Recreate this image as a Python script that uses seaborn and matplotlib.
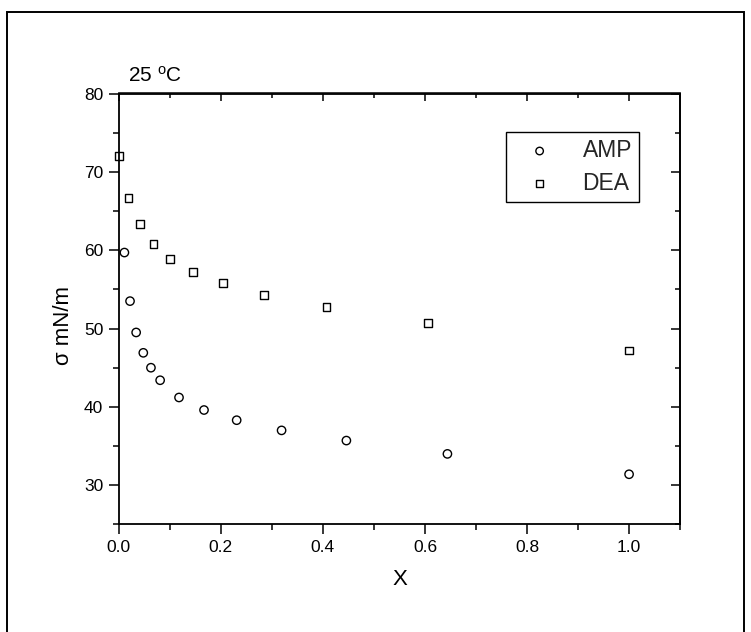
import numpy as np
import pandas as pd
import matplotlib
matplotlib.use("Agg")
import matplotlib.pyplot as plt
import seaborn as sns
from matplotlib.ticker import MultipleLocator
from matplotlib.patches import Rectangle

# ---- data ----
amp_x = [0.011, 0.022, 0.034, 0.048, 0.063, 0.081, 0.118, 0.167, 0.231, 0.319, 0.446, 0.644, 1.0]
amp_sigma = [59.7, 53.5, 49.5, 46.9, 45.0, 43.4, 41.2, 39.6, 38.3, 37.0, 35.7, 34.0, 31.4]
dea_x = [0.0, 0.019, 0.041, 0.068, 0.101, 0.146, 0.204, 0.285, 0.407, 0.606, 1.0]
dea_sigma = [72.0, 66.7, 63.3, 60.8, 58.9, 57.2, 55.8, 54.3, 52.7, 50.7, 47.2]
series_labels = ["AMP", "DEA"]
x_ticks = [0.0, 0.2, 0.4, 0.6, 0.8, 1.0]
x_ticklabels = ["0.0", "0.2", "0.4", "0.6", "0.8", "1.0"]
y_ticks = [30, 40, 50, 60, 70, 80]
y_ticklabels = ["30", "40", "50", "60", "70", "80"]
x_label = "X"
y_label = "σ mN/m"
title_text = r"25 $^{\mathregular{o}}$C"

amp_df = pd.DataFrame({"X": amp_x, "sigma": amp_sigma})
dea_df = pd.DataFrame({"X": dea_x, "sigma": dea_sigma})

sns.set_theme(style="ticks")
plt.rcParams["font.family"] = ["Liberation Sans", "DejaVu Sans"]
plt.rcParams["mathtext.default"] = "regular"

W, H = 751, 632
fig = plt.figure(figsize=(W / 100, H / 100), dpi=100, facecolor="white")
ax_l, ax_r, ax_t, ax_b = 118.8, 680.1, 93.5, 524.4
ax = fig.add_axes([ax_l / W, 1 - ax_b / H, (ax_r - ax_l) / W, (ax_b - ax_t) / H])
ax.set_facecolor("white")

sns.scatterplot(data=amp_df, x="X", y="sigma", ax=ax, marker="o", s=36,
                color="black", facecolor="none", edgecolor="black",
                linewidth=1.0, label=series_labels[0], clip_on=False, zorder=3)
sns.scatterplot(data=dea_df, x="X", y="sigma", ax=ax, marker="s", s=32,
                color="black", facecolor="none", edgecolor="black",
                linewidth=1.0, label=series_labels[1], clip_on=False, zorder=3)

ax.set_xlim(0.0, 1.1)
ax.set_ylim(25, 80)
ax.set_xticks(x_ticks)
ax.set_xticklabels(x_ticklabels)
ax.set_yticks(y_ticks)
ax.set_yticklabels(y_ticklabels)
ax.xaxis.set_minor_locator(MultipleLocator(0.1))
ax.yaxis.set_minor_locator(MultipleLocator(5))
ax.tick_params(which="both", direction="out", color="black", width=1.1,
               labelsize=12.5, labelcolor="black", top=False, right=False)
ax.tick_params(which="major", length=7.2, pad=4)
ax.tick_params(which="minor", length=4.3)
for sp in ax.spines.values():
    sp.set_visible(True)
    sp.set_color("black")
    sp.set_linewidth(1.3)

# inward ticks on the top and right sides
top = ax.secondary_xaxis("top")
top.set_xticks(x_ticks)
top.xaxis.set_minor_locator(MultipleLocator(0.1))
top.tick_params(which="both", direction="in", color="black", width=1.1, labeltop=False)
top.tick_params(which="major", length=6)
top.tick_params(which="minor", length=3.5)
top.spines["top"].set_linewidth(1.3)
right = ax.secondary_yaxis("right")
right.set_yticks(y_ticks)
right.yaxis.set_minor_locator(MultipleLocator(5))
right.tick_params(which="both", direction="in", color="black", width=1.1, labelright=False)
right.tick_params(which="major", length=6.5)
right.tick_params(which="minor", length=3.3)
right.spines["right"].set_linewidth(1.3)

ax.set_xlabel(x_label, fontsize=16, color="black")
ax.set_ylabel(y_label, fontsize=16, color="black")
ax.xaxis.set_label_coords((400 - ax_l) / (ax_r - ax_l), -(569 - ax_b) / (ax_b - ax_t))
ax.yaxis.set_label_coords(-(ax_l - 74) / (ax_r - ax_l), 1 - (325.8 - ax_t) / (ax_b - ax_t))

leg = ax.legend(loc="upper right",
                bbox_to_anchor=((639.3 - ax_l) / (ax_r - ax_l), 1 - (131.7 - ax_t) / (ax_b - ax_t)),
                borderaxespad=0, fontsize=16.5, frameon=True, fancybox=False,
                edgecolor="black", framealpha=1, borderpad=0.32, handlelength=2.3,
                handletextpad=0.72, labelspacing=0.42, markerscale=0.9)
leg.get_frame().set_linewidth(1.0)

fig.text(128 / W, 1 - 82 / H, title_text, fontsize=15, ha="left", va="baseline", color="black")

fig.add_artist(Rectangle((7 / W, -0.05), (744 - 7) / W, (H - 12) / H + 0.05,
                         transform=fig.transFigure, fill=False, lw=1.4, ec="black"))

fig.savefig("out.png", dpi=100, facecolor="white")
